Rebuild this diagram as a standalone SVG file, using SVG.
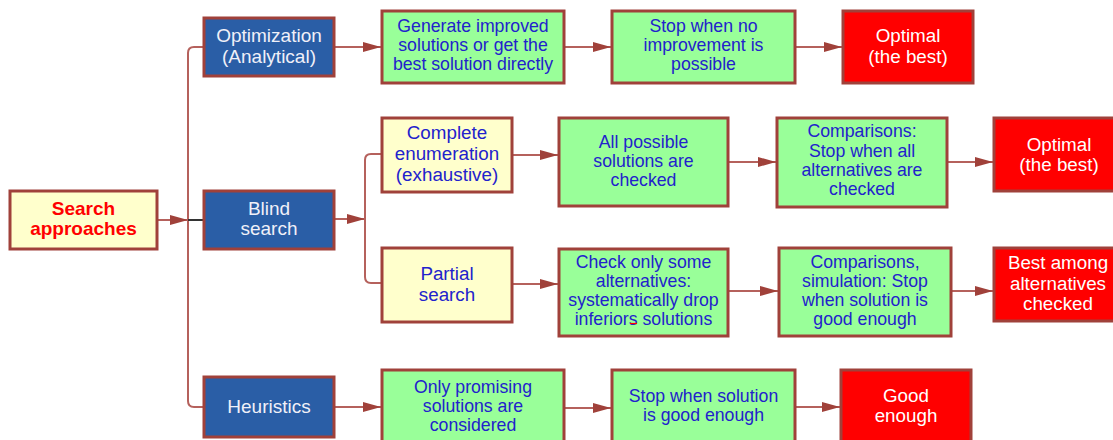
<svg xmlns="http://www.w3.org/2000/svg" width="1113" height="440" viewBox="0 0 1113 440">
  <style>
    .box { stroke: #A0413A; stroke-width: 3; }
    .root { fill: #FFFFCC; }
    .cat { fill: #2A5EA6; }
    .opt { fill: #FFFFCC; }
    .step { fill: #99FF99; }
    .res { fill: #FF0000; }
    text { font-family: "Liberation Sans", Arial, sans-serif; text-anchor: middle; }
    .t-root { font-size: 19px; font-weight: bold; fill: #FF0000; }
    .t-cat { font-size: 19px; fill: #F0F0F8; }
    .t-opt { font-size: 18.8px; fill: #2222CC; }
    .t-step { font-size: 17.7px; fill: #2222CC; }
    .t-res { font-size: 18.8px; fill: #FFFFFF; }
    .link { fill: none; stroke: #B5615C; stroke-width: 2; }
  </style>
  <defs>
    <marker id="arrow" markerUnits="userSpaceOnUse" markerWidth="18" markerHeight="12" refX="18" refY="6" orient="auto">
      <path d="M0,1 L18,6 L0,11 z" fill="#A0413A"/>
    </marker>
  </defs>

  <rect width="1113" height="440" fill="#FFFFFF"/>

  <!-- connectors -->
  <g id="connectors">
    <path class="link" d="M157,220 H188" marker-end="url(#arrow)"/>
    <path class="link" d="M204,47 H194 Q188,47 188,53 V401 Q188,407 194,407 H204"/>
    <path d="M188,220 H204" stroke="#333333" stroke-width="2"/>
    <path class="link" d="M334,47 H381" marker-end="url(#arrow)"/>
    <path class="link" d="M564,47 H611" marker-end="url(#arrow)"/>
    <path class="link" d="M795,47 H842" marker-end="url(#arrow)"/>
    <path class="link" d="M334,219 H365" marker-end="url(#arrow)"/>
    <path class="link" d="M382,154 H371 Q365,154 365,160 V277 Q365,283 371,283 H382"/>
    <path class="link" d="M512,155 H558" marker-end="url(#arrow)"/>
    <path class="link" d="M728,162 H776" marker-end="url(#arrow)"/>
    <path class="link" d="M947,162 H993" marker-end="url(#arrow)"/>
    <path class="link" d="M512,284 H558" marker-end="url(#arrow)"/>
    <path class="link" d="M728,291 H778" marker-end="url(#arrow)"/>
    <path class="link" d="M951,291 H993" marker-end="url(#arrow)"/>
    <path class="link" d="M334,407 H381" marker-end="url(#arrow)"/>
    <path class="link" d="M564,408 H611" marker-end="url(#arrow)"/>
    <path class="link" d="M795,407 H840" marker-end="url(#arrow)"/>
  </g>

  <g id="search-approaches">
    <rect class="box root" x="10" y="191" width="147" height="58"/>
    <text class="t-root" x="83.5" y="215">Search</text>
    <text class="t-root" x="83.5" y="235">approaches</text>
  </g>

  <g id="optimization">
    <rect class="box cat" x="204" y="18" width="130" height="58"/>
    <text class="t-cat" x="269" y="42">Optimization</text>
    <text class="t-cat" x="269" y="63">(Analytical)</text>
  </g>

  <g id="blind-search">
    <rect class="box cat" x="204" y="191" width="130" height="58"/>
    <text class="t-cat" x="269" y="215">Blind</text>
    <text class="t-cat" x="269" y="235">search</text>
  </g>

  <g id="heuristics">
    <rect class="box cat" x="204" y="377" width="130" height="60"/>
    <text class="t-cat" x="269" y="413">Heuristics</text>
  </g>

  <g id="generate-improved">
    <rect class="box step" x="382" y="11" width="182" height="72"/>
    <text class="t-step" x="473" y="32">Generate improved</text>
    <text class="t-step" x="473" y="51">solutions or get the</text>
    <text class="t-step" x="473" y="70">best solution directly</text>
  </g>

  <g id="stop-no-improvement">
    <rect class="box step" x="612" y="11" width="183" height="72"/>
    <text class="t-step" x="703.5" y="32">Stop when no</text>
    <text class="t-step" x="703.5" y="51">improvement is</text>
    <text class="t-step" x="703.5" y="70">possible</text>
  </g>

  <g id="optimal-1">
    <rect class="box res" x="843" y="11" width="130" height="72"/>
    <text class="t-res" x="908" y="42">Optimal</text>
    <text class="t-res" x="908" y="63">(the best)</text>
  </g>

  <g id="complete-enumeration">
    <rect class="box opt" x="382" y="118" width="130" height="74"/>
    <text class="t-opt" x="447" y="139">Complete</text>
    <text class="t-opt" x="447" y="160">enumeration</text>
    <text class="t-opt" x="447" y="181">(exhaustive)</text>
  </g>

  <g id="all-checked">
    <rect class="box step" x="559" y="118" width="169" height="88"/>
    <text class="t-step" x="643.5" y="148">All possible</text>
    <text class="t-step" x="643.5" y="167">solutions are</text>
    <text class="t-step" x="643.5" y="186">checked</text>
  </g>

  <g id="comparisons-all">
    <rect class="box step" x="777" y="118" width="170" height="89"/>
    <text class="t-step" x="862" y="137">Comparisons:</text>
    <text class="t-step" x="862" y="157">Stop when all</text>
    <text class="t-step" x="862" y="176">alternatives are</text>
    <text class="t-step" x="862" y="195">checked</text>
  </g>

  <g id="optimal-2">
    <rect class="box res" x="994" y="118" width="130" height="73"/>
    <text class="t-res" x="1059" y="151">Optimal</text>
    <text class="t-res" x="1059" y="171">(the best)</text>
  </g>

  <g id="partial-search">
    <rect class="box opt" x="382" y="248" width="130" height="74"/>
    <text class="t-opt" x="447" y="280">Partial</text>
    <text class="t-opt" x="447" y="301">search</text>
  </g>

  <g id="check-some">
    <rect class="box step" x="559" y="249" width="169" height="87"/>
    <text class="t-step" x="643.5" y="268">Check only some</text>
    <text class="t-step" x="643.5" y="287">alternatives:</text>
    <text class="t-step" x="643.5" y="306">systematically drop</text>
    <text class="t-step" x="643.5" y="325">inferiors solutions</text>
    <path d="M630,323.5 H637" stroke="#FF0000" stroke-width="1.2"/>
  </g>

  <g id="comparisons-simulation">
    <rect class="box step" x="779" y="248" width="172" height="88"/>
    <text class="t-step" x="865" y="268">Comparisons,</text>
    <text class="t-step" x="865" y="287">simulation: Stop</text>
    <text class="t-step" x="865" y="306">when solution is</text>
    <text class="t-step" x="865" y="325">good enough</text>
  </g>

  <g id="best-among">
    <rect class="box res" x="994" y="248" width="130" height="73"/>
    <text class="t-res" x="1058" y="269">Best among</text>
    <text class="t-res" x="1058" y="290">alternatives</text>
    <text class="t-res" x="1058" y="310">checked</text>
  </g>

  <g id="only-promising">
    <rect class="box step" x="382" y="370" width="182" height="74"/>
    <text class="t-step" x="473" y="393">Only promising</text>
    <text class="t-step" x="473" y="412">solutions are</text>
    <text class="t-step" x="473" y="431">considered</text>
  </g>

  <g id="stop-good-enough">
    <rect class="box step" x="612" y="370" width="183" height="74"/>
    <text class="t-step" x="703.5" y="402">Stop when solution</text>
    <text class="t-step" x="703.5" y="421">is good enough</text>
  </g>

  <g id="good-enough">
    <rect class="box res" x="841" y="370" width="130" height="74"/>
    <text class="t-res" x="906" y="402">Good</text>
    <text class="t-res" x="906" y="422">enough</text>
  </g>
</svg>
